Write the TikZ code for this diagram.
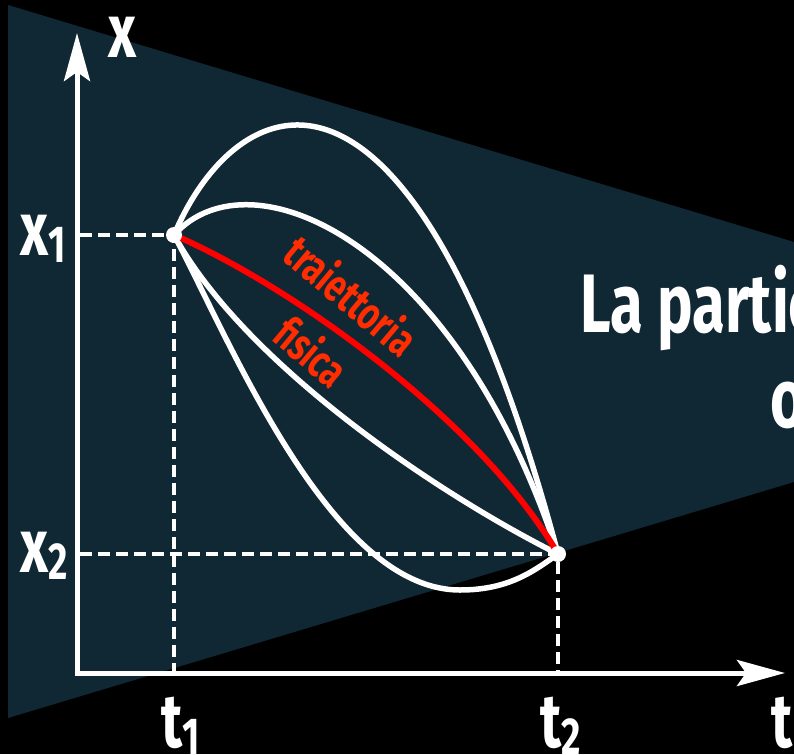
\documentclass[tikz,border=0pt]{standalone}
\usepackage{fontspec}
\newfontfamily\cond[FakeStretch=0.72]{Fira Sans}
\usetikzlibrary{arrows.meta}
\definecolor{teal0}{RGB}{16,39,52}
\definecolor{redtxt}{RGB}{255,45,0}
\tikzset{
  curve/.style={white, line width=5.5pt, line join=round, line cap=round},
  phys/.style={red, line width=6pt, line cap=round},
  dashline/.style={white, line width=3.5pt, dash pattern=on 12pt off 6pt},
  axisline/.style={white, line width=5pt, line join=miter,
    {Stealth[length=48pt,width=26pt,inset=9pt]}-{Stealth[length=48pt,width=26pt,inset=9pt]}},
  lab/.style={text=white, inner sep=0pt, font=\cond\bfseries\fontsize{76}{80}\selectfont},
  big/.style={text=white, inner sep=0pt, font=\cond\bfseries\fontsize{83}{90}\selectfont},
  redlab/.style={text=redtxt, inner sep=0pt, font=\cond\bfseries\fontsize{46}{48}\selectfont},
  dot/.style={circle, fill=white, inner sep=0pt, minimum size=16pt}
}
\newcommand{\subs}[1]{\raisebox{-7pt}{\fontsize{52}{52}\selectfont #1}}
\begin{document}
\begin{tikzpicture}[x=1pt,y=-1pt]
\fill[black] (0,0) rectangle (794,754);
\useasboundingbox (0,0) rectangle (794,754);
\fill[teal0] (8,5) -- (794,242) -- (794,482) -- (8,718) -- cycle;

% coordinates
\coordinate (O) at (77,673);
\coordinate (Xtip) at (77,33);
\coordinate (Ttip) at (785,673);
\coordinate (P1) at (174,235);
\coordinate (P2) at (558,554);
\coordinate (X1) at (80,235);
\coordinate (X2) at (80,554);
\coordinate (T1) at (174,671);
\coordinate (T2) at (558,671);
\coordinate (Dbot) at (460,590);

% axes
\draw[axisline] (Xtip) -- (O) -- (Ttip);

% dashed guides
\draw[dashline] (X1) -- (P1) -- (T1);
\draw[dashline] (X2) -- (P2) -- (T2);

% paths
\draw[curve] (P1) .. controls (235,90) and (410,0) .. (P2);
\draw[curve] (P1) .. controls (250,150) and (455,240) .. (P2);
\draw[curve] (P1) .. controls (245,365) and (440,495) .. (P2);
\draw[curve] (P1) .. controls (230,340) and (330,590) .. (Dbot)
                  .. controls (510,590) and (535,570) .. (P2);
\draw[phys] (P1) .. controls (290,285) and (480,420) .. (P2);

\node[dot] (d1) at (P1) {};
\node[dot] (d2) at (P2) {};

% labels
\node[lab] (lx) at (123,37) {x};
\node[lab, anchor=base west] (lx1) at (20,255) {x\subs{1}};
\node[lab, anchor=base west] (lx2) at (20,572) {x\subs{2}};
\node[lab, anchor=base west] (lt1) at (161,747) {t\subs{1}};
\node[lab, anchor=base west] (lt2) at (540,747) {t\subs{2}};
\node[lab, anchor=base west] (lt) at (771,747) {t};

\node[redlab, rotate=-40] (tr) at (352,295) {traiettoria};
\node[redlab, rotate=-40] (fi) at (312,351) {fisica};

\node[big, anchor=base west] (la) at (580,332) {La partic};
\node[big, anchor=base west] (lo) at (770,427) {o};
\end{tikzpicture}
\end{document}
